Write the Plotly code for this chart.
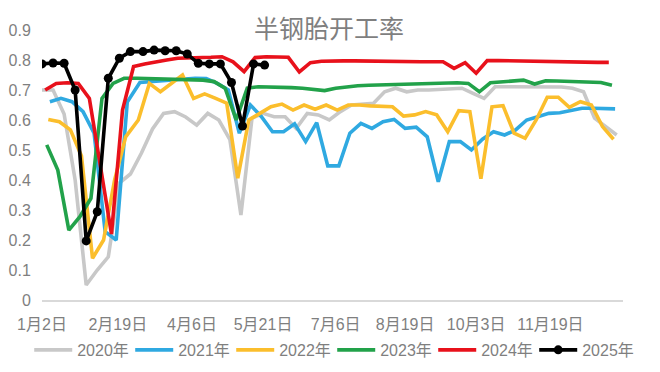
import pandas as pd
import plotly.graph_objects as go

# ---- data (weekly, Thursday) ----
series_names = ["2020年", "2021年", "2022年", "2023年", "2024年", "2025年"]
start_dates = ["2020-01-02", "2021-01-07", "2022-01-06", "2023-01-05", "2024-01-04", "2025-01-02"]

v2020 = [0.70, 0.70, 0.62, 0.40, 0.05, 0.10, 0.144, 0.39, 0.42, 0.49, 0.57, 0.622, 0.628,
         0.61, 0.583, 0.622, 0.60, 0.535, 0.283, 0.606, 0.622, 0.611, 0.611, 0.572, 0.622,
         0.617, 0.60, 0.628, 0.65, 0.652, 0.656, 0.694, 0.706, 0.694, 0.70, 0.70, 0.703,
         0.705, 0.706, 0.689, 0.672, 0.711, 0.711, 0.711, 0.712, 0.712, 0.711, 0.710,
         0.706, 0.694, 0.606, 0.578, 0.55]
v2021 = [0.661, 0.672, 0.661, 0.628, 0.556, 0.228, 0.20, 0.66, 0.725, 0.728, 0.73, 0.734,
         0.737, 0.739, 0.738, 0.722, 0.70, 0.556, 0.65, 0.611, 0.561, 0.561, 0.587, 0.528,
         0.591, 0.447, 0.447, 0.556, 0.589, 0.572, 0.594, 0.602, 0.572, 0.576, 0.544, 0.394,
         0.528, 0.528, 0.50, 0.536, 0.561, 0.55, 0.567, 0.60, 0.611, 0.622, 0.624, 0.632,
         0.639, 0.639, 0.638, 0.637]
v2022 = [0.602, 0.594, 0.567, 0.48, 0.139, 0.20, 0.40, 0.544, 0.60, 0.722, 0.694, 0.722,
         0.75, 0.672, 0.687, 0.672, 0.656, 0.406, 0.60, 0.622, 0.644, 0.653, 0.633, 0.65,
         0.636, 0.65, 0.633, 0.65, 0.65, 0.647, 0.644, 0.644, 0.613, 0.617, 0.628, 0.617,
         0.561, 0.631, 0.628, 0.404, 0.644, 0.648, 0.556, 0.539, 0.60, 0.676, 0.676, 0.642,
         0.661, 0.65, 0.578, 0.536]
v2023 = [0.517, 0.433, 0.233, 0.278, 0.339, 0.672, 0.722, 0.739, 0.739, 0.738, 0.737, 0.736,
         0.735, 0.734, 0.733, 0.728, 0.706, 0.60, 0.706, 0.711, 0.711, 0.709, 0.708, 0.706,
         0.703, 0.698, 0.706, 0.711, 0.714, 0.716, 0.717, 0.718, 0.719, 0.72, 0.721, 0.722,
         0.723, 0.724, 0.722, 0.694, 0.724, 0.727, 0.731, 0.733, 0.72, 0.731, 0.73, 0.729,
         0.728, 0.727, 0.725, 0.716]
v2024 = [0.70, 0.722, 0.724, 0.722, 0.672, 0.45, 0.22, 0.633, 0.778, 0.787, 0.795, 0.80,
         0.806, 0.806, 0.808, 0.809, 0.811, 0.794, 0.761, 0.808, 0.811, 0.811, 0.809, 0.76,
         0.791, 0.796, 0.798, 0.797, 0.797, 0.796, 0.796, 0.795, 0.795, 0.795, 0.794, 0.794,
         0.794, 0.772, 0.791, 0.756, 0.798, 0.798, 0.797, 0.797, 0.796, 0.795, 0.795, 0.794,
         0.794, 0.793, 0.792, 0.792]
v2025 = [0.787, 0.79, 0.789, 0.70, 0.197, 0.294, 0.739, 0.806, 0.828, 0.828, 0.833, 0.831,
         0.831, 0.82, 0.789, 0.787, 0.787, 0.725, 0.58, 0.787, 0.783]

series_values = [v2020, v2021, v2022, v2023, v2024, v2025]
colors = ["#C8C8C8", "#2FA9E1", "#FBBE2C", "#22A24A", "#E8111B", "#000000"]

tick_dates = ["2020-01-02", "2020-02-19", "2020-04-06", "2020-05-21",
              "2020-07-06", "2020-08-19", "2020-10-03", "2020-11-19"]
tick_labels = ["1月2日", "2月19日", "4月6日", "5月21日", "7月6日", "8月19日", "10月3日", "11月19日"]

FONT = "Liberation Sans, Arial, Noto Sans CJK SC, sans-serif"
TEXT_COLOR = "#7F7F7F"
W, H = 660, 372

fig = go.Figure()
for name, start, vals, col in zip(series_names, start_dates, series_values, colors):
    dates = pd.date_range(start, periods=len(vals), freq="7D")
    x = [d.replace(year=2020) for d in dates]
    is_last = name == "2025年"
    fig.add_trace(go.Scatter(
        x=x, y=vals, name=name,
        mode="lines+markers" if is_last else "lines",
        line=dict(color=col, width=3.6),
        marker=dict(size=9, color=col) if is_last else None,
    ))

# note: the page body has an 8px default margin, compensated below
fig.update_layout(
    width=W, height=H,
    margin=dict(l=34, r=45, t=22, b=80, autoexpand=False),
    paper_bgcolor="white", plot_bgcolor="white",
    font=dict(family=FONT, size=16, color=TEXT_COLOR),
    title=dict(text="半钢胎开工率", x=321 / W, xanchor="center", xref="container",
               y=1 - 21 / H, yref="container", yanchor="middle",
               font=dict(family="Noto Sans CJK SC, sans-serif", size=25, color=TEXT_COLOR)),
    showlegend=True,
    legend=dict(orientation="h", x=-0.022, xanchor="left", xref="paper",
                y=-0.185, yref="paper", yanchor="middle",
                font=dict(size=16, color=TEXT_COLOR),
                itemwidth=38, entrywidth=48, entrywidthmode="pixels", tracegroupgap=0),
)
fig.update_xaxes(
    type="date", range=["2020-01-02", "2021-01-04"], automargin=False,
    tickmode="array", tickvals=tick_dates, ticktext=tick_labels,
    showgrid=False, zeroline=False,
    showline=True, linecolor="#D9D9D9", linewidth=1.5,
    ticks="outside", ticklen=9, tickcolor="rgba(0,0,0,0)",
)
fig.update_yaxes(
    range=[0, 0.9], dtick=0.1, tick0=0, automargin=False,
    showgrid=False, zeroline=False, showline=False,
    ticks="outside", ticklen=7, tickcolor="rgba(0,0,0,0)",
)

fig.write_html("out.html")
